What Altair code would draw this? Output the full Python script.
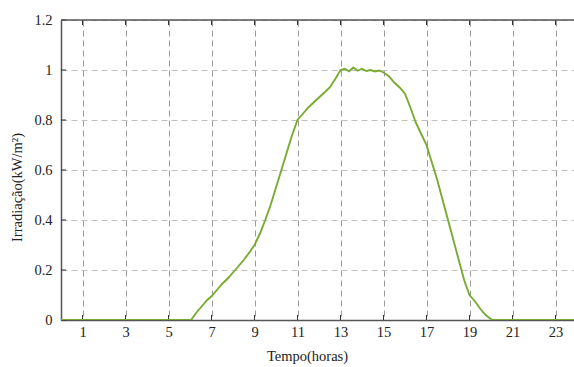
import altair as alt
import pandas as pd

hours = [0, 2, 4, 6.05, 6.3, 6.5, 6.8, 7, 7.3, 7.5, 7.8, 8, 8.3, 8.5, 8.8, 9, 9.25, 9.5, 9.75, 10,
         10.25, 10.5, 10.75, 11, 11.25, 11.5, 11.75, 12, 12.25, 12.5, 12.8, 13, 13.2, 13.4, 13.6,
         13.8, 14, 14.2, 14.4, 14.6, 14.8, 15, 15.25, 15.5, 15.75, 16, 16.25, 16.5, 16.75, 17,
         17.25, 17.5, 17.75, 18, 18.25, 18.5, 18.75, 19, 19.25, 19.5, 19.75, 20.05, 22, 23.86]
irr = [0, 0, 0, 0, 0.03, 0.05, 0.08, 0.095, 0.125, 0.145, 0.17, 0.19, 0.22, 0.24, 0.275, 0.30, 0.345, 0.40, 0.46, 0.53,
       0.60, 0.67, 0.74, 0.80, 0.825, 0.85, 0.87, 0.89, 0.91, 0.93, 0.97, 1.0, 1.005, 0.995, 1.01,
       0.997, 1.005, 0.996, 1.0, 0.994, 0.998, 0.99, 0.975, 0.95, 0.93, 0.905, 0.85, 0.79, 0.745, 0.70,
       0.63, 0.56, 0.48, 0.40, 0.32, 0.24, 0.16, 0.10, 0.075, 0.045, 0.02, 0, 0, 0]

x_ticks = [1, 3, 5, 7, 9, 11, 13, 15, 17, 19, 21, 23]
y_ticks = [0, 0.2, 0.4, 0.6, 0.8, 1.0, 1.2]

df = pd.DataFrame({"h": hours, "v": irr})
xt = pd.DataFrame({"t": x_ticks})
yt = pd.DataFrame({"t": y_ticks})

FONT = "Liberation Serif"
FS = 14.5
xscale = alt.Scale(domain=[0, 23.86], nice=False, zero=False)
yscale = alt.Scale(domain=[0, 1.2], nice=False)

line = alt.Chart(df).mark_line(color="#77ac30", strokeWidth=1.9, clip=True).encode(
    x=alt.X("h:Q", scale=xscale,
            axis=alt.Axis(values=x_ticks, title="Tempo(horas)", grid=True, gridDash=[6, 4],
                          gridColor="#9a9a9a", gridWidth=1, ticks=False, labelPadding=5,
                          domainColor="#555555", domainWidth=1.5,
                          labelFont=FONT, labelFontSize=FS, labelColor="#222",
                          titleFont=FONT, titleFontSize=FS, titleFontWeight="normal", titleColor="#222",
                          titleX=246, titleY=29, titleAlign="center")),
    y=alt.Y("v:Q", scale=yscale,
            axis=alt.Axis(values=y_ticks, format="~g", title="Irradiação(kW/m²)", grid=True,
                          gridDash=[6, 4], gridColor="#c0c0c0", gridWidth=1, ticks=False,
                          labelPadding=9, domainColor="#555555", domainWidth=1.5,
                          labelFont=FONT, labelFontSize=FS, labelColor="#222",
                          titleFont=FONT, titleFontSize=FS, titleFontWeight="normal", titleColor="#222",
                          titleX=-44, titleY=167, titleAngle=-90, titleAlign="center",
                          titleBaseline="middle")),
)

top = alt.Chart(yt).transform_filter("datum.t == 1.2").mark_rule(color="#555555", strokeWidth=1.5).encode(
    y=alt.Y("t:Q", scale=yscale), x=alt.value(0), x2=alt.value(513))

xtick_b = alt.Chart(xt).mark_rule(color="#333", strokeWidth=1).encode(
    x=alt.X("t:Q", scale=xscale), y=alt.value(300), y2=alt.value(295))
xtick_t = alt.Chart(xt).mark_rule(color="#333", strokeWidth=1).encode(
    x=alt.X("t:Q", scale=xscale), y=alt.value(0), y2=alt.value(5))
ytick = alt.Chart(yt).mark_rule(color="#333", strokeWidth=1).encode(
    y=alt.Y("t:Q", scale=yscale), x=alt.value(0), x2=alt.value(5))

chart = alt.layer(xtick_b, xtick_t, ytick, top, line).properties(
    width=513, height=300,
    autosize=alt.AutoSizeParams(type="none"),
    padding={"left": 61, "top": 20, "right": 0, "bottom": 47},
    background="white",
).configure_view(stroke=None)

chart.save("out.html", embed_options={"renderer": "svg", "actions": False})
